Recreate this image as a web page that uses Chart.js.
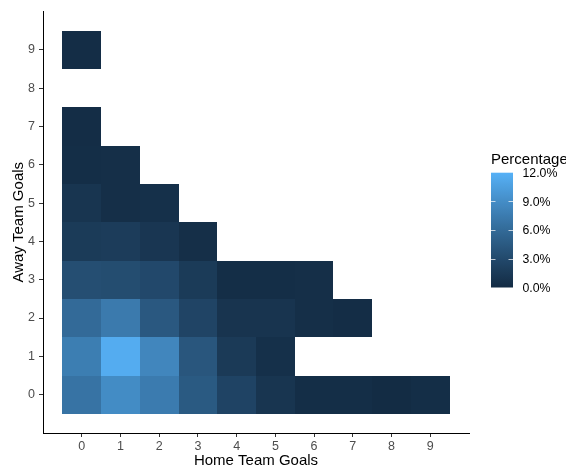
<!DOCTYPE html>
<html>
<head>
<meta charset="utf-8">
<script src="https://cdn.jsdelivr.net/npm/chart.js@4.4.1/dist/chart.umd.min.js"></script>
<style>
  html, body { margin: 0; padding: 0; background: #ffffff; }
  canvas { display: block; }
</style>
</head>
<body>
<canvas id="heatmap" width="566" height="469"></canvas>
<script>
// Scores : buts domicile / buts extérieur / pourcentage des matchs
const homeGoals = [
    0, 1, 2, 3, 4, 5, 6, 7, 8, 9,
    0, 1, 2, 3, 4, 5,
    0, 1, 2, 3, 4, 5, 6, 7,
    0, 1, 2, 3, 4, 5, 6,
    0, 1, 2, 3,
    0, 1, 2,
    0, 1,
    0,
    0
];
const awayGoals = [
    0, 0, 0, 0, 0, 0, 0, 0, 0, 0,
    1, 1, 1, 1, 1, 1,
    2, 2, 2, 2, 2, 2, 2, 2,
    3, 3, 3, 3, 3, 3, 3,
    4, 4, 4, 4,
    5, 5, 5,
    6, 6,
    7,
    9
];
const percentages = [
    6.8, 8.9, 7.5, 4.5, 2.4, 1.0, 0.3, 0.3, 0.1, 0.3,
    7.7, 11.6, 8.4, 4.2, 1.5, 0.5,
    6.0, 7.4, 4.4, 2.5, 0.9, 0.9, 0.4, 0.25,
    3.4, 3.3, 2.9, 1.6, 0.3, 0.3, 0.4,
    1.6, 1.7, 1.1, 0.4,
    1.0, 0.4, 0.5,
    0.3, 0.4,
    0.2,
    0.2
];
const goalTicks = [0, 1, 2, 3, 4, 5, 6, 7, 8, 9];
const legendTicks = [0, 3, 6, 9, 12];
const legendMin = 0;
const legendMax = 12;

const colourLow = '#132B43';
const colourHigh = '#56B1F7';
const fontFamily = '"Liberation Sans", Arial, sans-serif';

// Conversion couleurs (dégradé en espace Lab, comme ggplot)
function hexToRgb(hex) {
    const n = parseInt(hex.slice(1), 16);
    return [(n >> 16) & 255, (n >> 8) & 255, n & 255];
}

function toLinear(c) {
    c = c / 255;
    return c <= 0.04045 ? c / 12.92 : Math.pow((c + 0.055) / 1.055, 2.4);
}

function fromLinear(c) {
    const v = c <= 0.0031308 ? 12.92 * c : 1.055 * Math.pow(c, 1 / 2.4) - 0.055;
    return Math.max(0, Math.min(255, Math.round(v * 255)));
}

const white = [0.95047, 1.0, 1.08883];

function rgbToLab(rgb) {
    const [r, g, b] = rgb.map(toLinear);
    const xyz = [
        0.4124564 * r + 0.3575761 * g + 0.1804375 * b,
        0.2126729 * r + 0.7151522 * g + 0.0721750 * b,
        0.0193339 * r + 0.1191920 * g + 0.9503041 * b
    ];
    const f = (t) => t > Math.pow(6 / 29, 3) ? Math.cbrt(t) : t / (3 * Math.pow(6 / 29, 2)) + 4 / 29;
    const [fx, fy, fz] = xyz.map((v, i) => f(v / white[i]));
    return [116 * fy - 16, 500 * (fx - fy), 200 * (fy - fz)];
}

function labToRgb(lab) {
    const fy = (lab[0] + 16) / 116;
    const fx = fy + lab[1] / 500;
    const fz = fy - lab[2] / 200;
    const fi = (t) => t > 6 / 29 ? t * t * t : 3 * Math.pow(6 / 29, 2) * (t - 4 / 29);
    const [x, y, z] = [fi(fx) * white[0], fi(fy) * white[1], fi(fz) * white[2]];
    const r = 3.2404542 * x - 1.5371385 * y - 0.4985314 * z;
    const g = -0.9692660 * x + 1.8760108 * y + 0.0415560 * z;
    const b = 0.0556434 * x - 0.2040259 * y + 1.0572252 * z;
    return [r, g, b].map(fromLinear);
}

const labLow = rgbToLab(hexToRgb(colourLow));
const labHigh = rgbToLab(hexToRgb(colourHigh));

function fillColour(value) {
    const t = Math.max(0, Math.min(1, (value - legendMin) / (legendMax - legendMin)));
    const lab = labLow.map((v, i) => v + (labHigh[i] - v) * t);
    const [r, g, b] = labToRgb(lab);
    return `rgb(${r}, ${g}, ${b})`;
}

// Dessiner les cases avec les échelles du graphique
const tilesPlugin = {
    id: 'tiles',
    beforeDatasetsDraw(chart) {
        const { ctx, scales: { x, y } } = chart;
        ctx.save();
        chart.data.datasets[0].data.forEach((p) => {
            const left = Math.round(x.getPixelForValue(p.x - 0.5));
            const right = Math.round(x.getPixelForValue(p.x + 0.5));
            const top = Math.round(y.getPixelForValue(p.y + 0.5));
            const bottom = Math.round(y.getPixelForValue(p.y - 0.5));
            ctx.fillStyle = fillColour(p.v);
            ctx.fillRect(left, top, right - left, bottom - top);
        });
        ctx.restore();
    }
};

// Légende en barre de couleur
const colourBarPlugin = {
    id: 'colourBar',
    afterDraw(chart) {
        const ctx = chart.ctx;
        const barLeft = 491;
        const barWidth = 22;
        const barTop = 172.7;
        const barBottom = 287.5;
        const toPixel = (v) => barBottom - (v - legendMin) / (legendMax - legendMin) * (barBottom - barTop);

        ctx.save();
        const gradient = ctx.createLinearGradient(0, barBottom, 0, barTop);
        for (let i = 0; i <= 40; i++) {
            gradient.addColorStop(i / 40, fillColour(legendMin + (legendMax - legendMin) * i / 40));
        }
        ctx.fillStyle = gradient;
        ctx.fillRect(barLeft, barTop, barWidth, barBottom - barTop);

        ctx.strokeStyle = 'rgba(255, 255, 255, 0.7)';
        ctx.lineWidth = 1;
        legendTicks.filter((v) => v > legendMin && v < legendMax).forEach((v) => {
            const py = Math.round(toPixel(v)) + 0.5;
            ctx.beginPath();
            ctx.moveTo(barLeft, py);
            ctx.lineTo(barLeft + 4.5, py);
            ctx.moveTo(barLeft + barWidth - 4.5, py);
            ctx.lineTo(barLeft + barWidth, py);
            ctx.stroke();
        });

        ctx.fillStyle = '#000000';
        ctx.font = `15px ${fontFamily}`;
        ctx.textAlign = 'left';
        ctx.textBaseline = 'alphabetic';
        ctx.fillText('Percentage', 491, 164);

        ctx.font = `12.3px ${fontFamily}`;
        ctx.textBaseline = 'middle';
        legendTicks.forEach((v) => {
            ctx.fillText(`${v.toFixed(1)}%`, 522.5, toPixel(v) + 1);
        });
        ctx.restore();
    }
};

const tickFont = { family: fontFamily, size: 12.5 };
const titleFont = { family: fontFamily, size: 15, lineHeight: 1 };

new Chart(document.getElementById('heatmap'), {
    type: 'scatter',
    data: {
        datasets: [{
            label: 'Percentage',
            data: homeGoals.map((h, i) => ({ x: h, y: awayGoals[i], v: percentages[i] })),
            pointRadius: 0,
            pointHoverRadius: 0
        }]
    },
    options: {
        responsive: false,
        devicePixelRatio: 1,
        animation: false,
        layout: { padding: { top: 6, right: 97, left: 0, bottom: 0 } },
        plugins: {
            legend: { display: false },
            tooltip: { enabled: false }
        },
        scales: {
            x: {
                type: 'linear',
                min: -1,
                max: 10,
                afterBuildTicks: (scale) => { scale.ticks = goalTicks.map((v) => ({ value: v })); },
                afterFit: (scale) => { scale.height = 36; },
                ticks: { font: tickFont, color: '#4D4D4D', padding: 2, maxRotation: 0 },
                grid: { drawOnChartArea: false, drawTicks: true, tickLength: 4, color: '#333333' },
                border: { display: true, color: '#000000', width: 1 },
                title: { display: true, text: 'Home Team Goals', color: '#000000', font: titleFont, padding: { top: 0, bottom: 0.6 } }
            },
            y: {
                type: 'linear',
                min: -1,
                max: 10,
                afterBuildTicks: (scale) => { scale.ticks = goalTicks.map((v) => ({ value: v })); },
                afterFit: (scale) => { scale.width = 43; },
                ticks: { font: tickFont, color: '#4D4D4D', padding: 4 },
                grid: { drawOnChartArea: false, drawTicks: true, tickLength: 4, color: '#333333' },
                border: { display: true, color: '#000000', width: 1 },
                title: { display: true, text: 'Away Team Goals', color: '#000000', font: titleFont, padding: { top: 11, bottom: 0 } }
            }
        }
    },
    plugins: [tilesPlugin, colourBarPlugin]
});
</script>
</body>
</html>
